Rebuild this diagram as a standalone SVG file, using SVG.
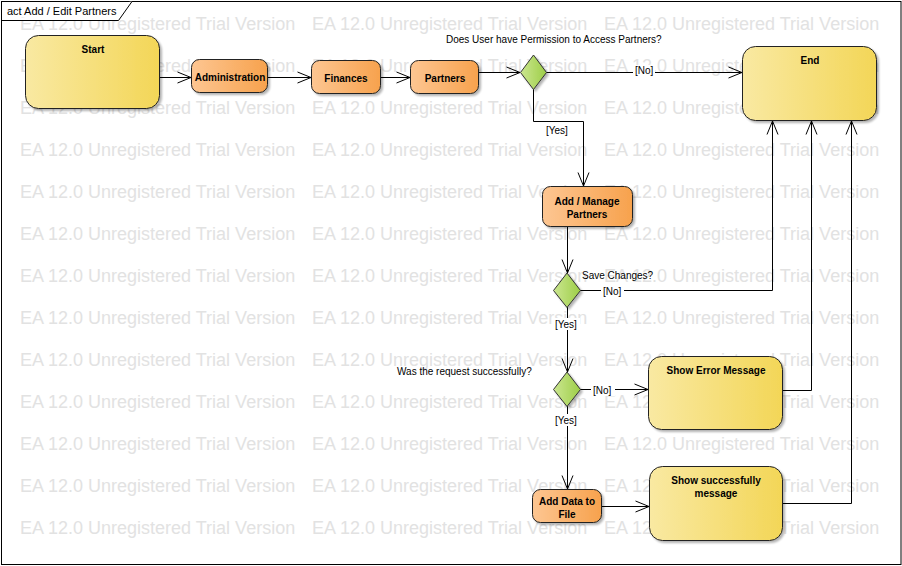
<svg xmlns="http://www.w3.org/2000/svg" width="902" height="566" viewBox="0 0 902 566">
<style>
.wm{font-family:"Liberation Sans",Arial,sans-serif;font-size:18px;fill:#e2e2e2}
.nt{font-family:"Liberation Sans",Arial,sans-serif;font-size:10px;font-weight:bold;fill:#000;text-anchor:middle}
.lb{font-family:"Liberation Sans",Arial,sans-serif;font-size:10px;fill:#000}
.ttl{font-family:"Liberation Sans",Arial,sans-serif;font-size:11px;fill:#000}
.act{fill:url(#gO);stroke:#222;stroke-width:1;filter:url(#sh)}
.yel{fill:url(#gY);stroke:#222;stroke-width:1;filter:url(#sh)}
.dec{fill:url(#gG);stroke:#333;stroke-width:1;filter:url(#sh)}
.cn{fill:none;stroke:#000;stroke-width:1;marker-end:url(#arr)}
.bg{fill:#fff}
</style>
<defs>
<linearGradient id="gO" x1="0" y1="0" x2="1" y2="0"><stop offset="0" stop-color="#fdc692"/><stop offset="1" stop-color="#f7a24d"/></linearGradient>
<linearGradient id="gY" x1="0" y1="0" x2="1" y2="0"><stop offset="0" stop-color="#f9e9a2"/><stop offset="1" stop-color="#f3d657"/></linearGradient>
<linearGradient id="gG" x1="0" y1="0" x2="1" y2="0"><stop offset="0" stop-color="#cbe690"/><stop offset="1" stop-color="#9dce47"/></linearGradient>
<filter id="sh" x="-10%" y="-10%" width="130%" height="130%"><feGaussianBlur in="SourceAlpha" stdDeviation="1.2"/><feOffset dx="2" dy="2" result="b"/><feComponentTransfer><feFuncA type="linear" slope="0.3"/></feComponentTransfer><feMerge><feMergeNode/><feMergeNode in="SourceGraphic"/></feMerge></filter>
<marker id="arr" markerUnits="userSpaceOnUse" markerWidth="16" markerHeight="14" refX="13.5" refY="6" orient="auto" overflow="visible"><path d="M0,0.5 L13.5,6 L0,11.5" fill="none" stroke="#000" stroke-width="1"/></marker>
</defs>
<rect x="0" y="0" width="902" height="566" fill="#fff"/>
<g id="watermark">
<text class="wm" x="20" y="30">EA 12.0 Unregistered Trial Version</text><text class="wm" x="312" y="30">EA 12.0 Unregistered Trial Version</text><text class="wm" x="604" y="30">EA 12.0 Unregistered Trial Version</text>
<text class="wm" x="20" y="72">EA 12.0 Unregistered Trial Version</text><text class="wm" x="312" y="72">EA 12.0 Unregistered Trial Version</text><text class="wm" x="604" y="72">EA 12.0 Unregistered Trial Version</text>
<text class="wm" x="20" y="114">EA 12.0 Unregistered Trial Version</text><text class="wm" x="312" y="114">EA 12.0 Unregistered Trial Version</text><text class="wm" x="604" y="114">EA 12.0 Unregistered Trial Version</text>
<text class="wm" x="20" y="156">EA 12.0 Unregistered Trial Version</text><text class="wm" x="312" y="156">EA 12.0 Unregistered Trial Version</text><text class="wm" x="604" y="156">EA 12.0 Unregistered Trial Version</text>
<text class="wm" x="20" y="198">EA 12.0 Unregistered Trial Version</text><text class="wm" x="312" y="198">EA 12.0 Unregistered Trial Version</text><text class="wm" x="604" y="198">EA 12.0 Unregistered Trial Version</text>
<text class="wm" x="20" y="240">EA 12.0 Unregistered Trial Version</text><text class="wm" x="312" y="240">EA 12.0 Unregistered Trial Version</text><text class="wm" x="604" y="240">EA 12.0 Unregistered Trial Version</text>
<text class="wm" x="20" y="282">EA 12.0 Unregistered Trial Version</text><text class="wm" x="312" y="282">EA 12.0 Unregistered Trial Version</text><text class="wm" x="604" y="282">EA 12.0 Unregistered Trial Version</text>
<text class="wm" x="20" y="324">EA 12.0 Unregistered Trial Version</text><text class="wm" x="312" y="324">EA 12.0 Unregistered Trial Version</text><text class="wm" x="604" y="324">EA 12.0 Unregistered Trial Version</text>
<text class="wm" x="20" y="366">EA 12.0 Unregistered Trial Version</text><text class="wm" x="312" y="366">EA 12.0 Unregistered Trial Version</text><text class="wm" x="604" y="366">EA 12.0 Unregistered Trial Version</text>
<text class="wm" x="20" y="408">EA 12.0 Unregistered Trial Version</text><text class="wm" x="312" y="408">EA 12.0 Unregistered Trial Version</text><text class="wm" x="604" y="408">EA 12.0 Unregistered Trial Version</text>
<text class="wm" x="20" y="450">EA 12.0 Unregistered Trial Version</text><text class="wm" x="312" y="450">EA 12.0 Unregistered Trial Version</text><text class="wm" x="604" y="450">EA 12.0 Unregistered Trial Version</text>
<text class="wm" x="20" y="492">EA 12.0 Unregistered Trial Version</text><text class="wm" x="312" y="492">EA 12.0 Unregistered Trial Version</text><text class="wm" x="604" y="492">EA 12.0 Unregistered Trial Version</text>
<text class="wm" x="20" y="534">EA 12.0 Unregistered Trial Version</text><text class="wm" x="312" y="534">EA 12.0 Unregistered Trial Version</text><text class="wm" x="604" y="534">EA 12.0 Unregistered Trial Version</text>
</g>
<g id="frame">
<rect x="1.5" y="1.5" width="899.5" height="563" fill="none" stroke="#000" stroke-width="1"/>
<path d="M1.5,20.5 H118.5 L132,1.5" fill="#fff" stroke="#000" stroke-width="1"/>
<text class="ttl" x="7" y="15">act Add / Edit Partners</text>
</g>
<g id="connectors">
<path class="cn" d="M160,77.5 H191"/>
<path class="cn" d="M268,77.5 H311"/>
<path class="cn" d="M381,77.5 H410"/>
<path class="cn" d="M479,72.5 H520"/>
<path class="cn" d="M546,72.5 H742"/>
<path class="cn" d="M533.5,89 V121.5 H583.5 V186"/>
<path class="cn" d="M567.5,227 V273"/>
<path class="cn" d="M580,290.5 H772.5 V121"/>
<path class="cn" d="M567.5,307 V372"/>
<path class="cn" d="M580,389.5 H648"/>
<path class="cn" d="M783,390.5 H811.5 V121"/>
<path class="cn" d="M567.5,406 V489"/>
<path class="cn" d="M602,506.5 H649"/>
<path class="cn" d="M783,503.5 H851.5 V121"/>
<rect class="bg" x="633" y="65" width="22" height="12"/>
<text class="lb" x="635" y="74">[No]</text>
<text class="lb" x="546" y="134">[Yes]</text>
<rect class="bg" x="601" y="285" width="23" height="12"/>
<text class="lb" x="603" y="295">[No]</text>
<rect class="bg" x="554" y="318" width="26" height="12"/>
<text class="lb" x="555" y="328">[Yes]</text>
<rect class="bg" x="591" y="384" width="24" height="12"/>
<text class="lb" x="593" y="394">[No]</text>
<rect class="bg" x="554" y="414" width="26" height="12"/>
<text class="lb" x="555" y="424">[Yes]</text>
<text class="lb" x="446" y="43">Does User have Permission to Access Partners?</text>
<text class="lb" x="582" y="279">Save Changes?</text>
<text class="lb" x="397" y="375">Was the request successfully?</text>
</g>
<g id="start">
<rect class="yel" x="25.5" y="35.5" width="134" height="73" rx="13"/>
<text class="nt" x="93" y="53">Start</text>
</g>
<g id="administration">
<rect class="act" x="191.5" y="59.5" width="76" height="33" rx="8"/>
<text class="nt" x="230" y="81">Administration</text>
</g>
<g id="finances">
<rect class="act" x="311.5" y="60.5" width="69" height="33" rx="8"/>
<text class="nt" x="346" y="82">Finances</text>
</g>
<g id="partners">
<rect class="act" x="410.5" y="60.5" width="68" height="33" rx="8"/>
<text class="nt" x="445" y="82">Partners</text>
</g>
<g id="decision1">
<path class="dec" d="M533.5,55 L546.5,72.5 L533.5,89.5 L520.5,72.5 Z"/>
</g>
<g id="end">
<rect class="yel" x="742.5" y="46.5" width="134" height="74" rx="13"/>
<text class="nt" x="810" y="64">End</text>
</g>
<g id="add-manage-partners">
<rect class="act" x="542.5" y="186.5" width="90" height="40" rx="8"/>
<text class="nt" x="587" y="205">Add / Manage</text>
<text class="nt" x="587" y="218">Partners</text>
</g>
<g id="decision2">
<path class="dec" d="M567,273 L580.5,290.5 L567,307.5 L553.5,290.5 Z"/>
</g>
<g id="decision3">
<path class="dec" d="M567,372 L580.5,389.5 L567,406.5 L553.5,389.5 Z"/>
</g>
<g id="show-error-message">
<rect class="yel" x="648.5" y="356.5" width="134" height="73" rx="13"/>
<text class="nt" x="716" y="374">Show Error Message</text>
</g>
<g id="add-data-to-file">
<rect class="act" x="532.5" y="489.5" width="69" height="33" rx="8"/>
<text class="nt" x="567" y="505">Add Data to</text>
<text class="nt" x="567" y="518">File</text>
</g>
<g id="show-successfully-message">
<rect class="yel" x="649.5" y="466.5" width="133" height="74" rx="13"/>
<text class="nt" x="716" y="484">Show successfully</text>
<text class="nt" x="716" y="497">message</text>
</g>
</svg>
